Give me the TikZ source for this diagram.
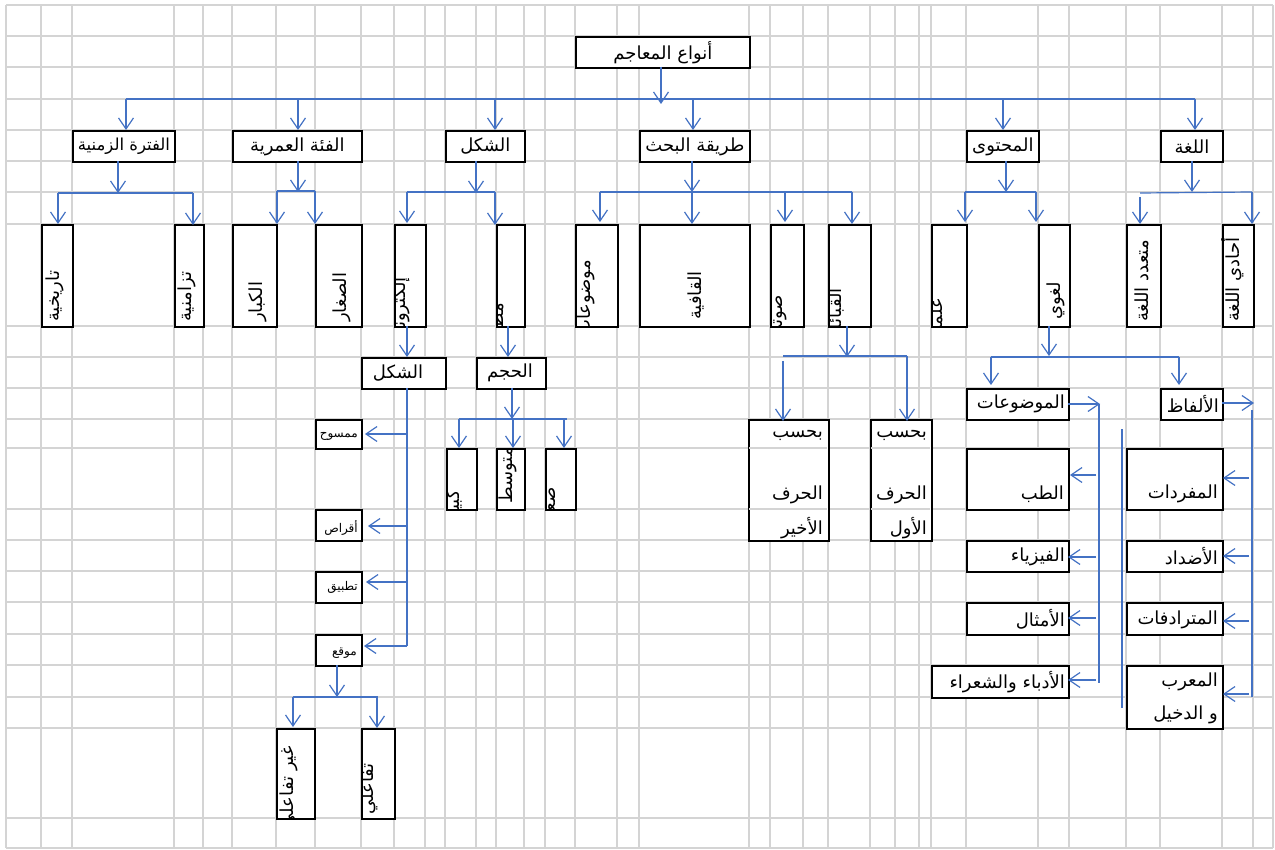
\documentclass[tikz,border=0pt]{standalone}
\usepackage{fontspec}
\newfontfamily\arabicfont[Script=Arabic]{DejaVu Sans}
\TeXXeTstate=1
\usetikzlibrary{arrows.meta}
\definecolor{arrowblue}{RGB}{68,114,196}
\definecolor{gridgray}{RGB}{212,212,212}
% name, x1, y1, x2, y2, text
\newcommand{\bx}[6]{\node[box,anchor=north west,minimum width={#4-#2},minimum height={#5-#3}] (#1) at (#2,#3) {#6};}
% clipped vertical text: box, x, y, anchor, text
\newcommand{\vclip}[5]{\begin{scope}\clip (#1.south west) rectangle (#1.north east);\node[vt,anchor=#4] (#1-t) at (#2,#3) {#5};\end{scope}}
\begin{document}
\begin{tikzpicture}[x=1pt,y=-1pt,
  box/.style={draw=black,line width=1.8pt,fill=white,inner sep=0pt,font=\arabicfont\fontsize{18}{21}\selectfont},
  con/.style={draw=arrowblue,line width=1.2pt},
  arr/.style={con,-{Straight Barb[length=11pt,width=15pt]}},
  gridline/.style={draw=gridgray,line width=1.1pt},
  lab/.style={inner sep=0pt,font=\arabicfont\fontsize{18}{21}\selectfont},
  small/.style={inner sep=0pt,font=\arabicfont\fontsize{12}{14}\selectfont},
  vt/.style={lab,rotate=90}]
\fill[white] (0,0) rectangle (1275,850);
\useasboundingbox (0,0) rectangle (1275,850);
% grid
\foreach \x in {6,41,72,174,203,232,276,315,361,394,425,445,476,496,524,545,575,617,639,749,770,803,828,870,895,919,931,966,1038,1069,1126,1160,1222,1253,1273}
  \draw[gridline] (\x,5) -- (\x,848);
\foreach \y in {5,36,67,99,130,161,192,224,326,357,388,419,448,509,540,571,602,634,665,697,728,818,848}
  \draw[gridline] (6,\y) -- (1273,\y);
% level 0 and 1
\bx{root}{575}{36}{749}{67}{\beginR أنواع المعاجم\endR}
\bx{fatra}{72}{130}{174}{161}{\fontsize{16.5}{20}\selectfont\beginR الفترة الزمنية\endR}
\bx{fia}{232}{130}{361}{161}{\beginR الفئة العمرية\endR}
\bx{shakl}{445}{130}{524}{161}{\beginR الشكل\endR}
\bx{tariqa}{639}{130}{749}{161}{\beginR طريقة البحث\endR}
\bx{muhtawa}{966}{130}{1038}{161}{\beginR المحتوى\endR}
\bx{lugha}{1160}{130}{1222}{161}{\beginR اللغة\endR}
% level 2 (tall boxes)
\bx{tarikh}{41}{224}{72}{326}{}
\bx{tazamun}{174}{224}{203}{326}{}
\bx{kibar}{232}{224}{276}{326}{}
\bx{sighar}{315}{224}{361}{326}{}
\bx{elec}{394}{224}{425}{326}{}
\bx{print}{496}{224}{524}{326}{}
\bx{mawdu}{575}{224}{617}{326}{}
\bx{qafia}{639}{224}{749}{326}{}
\bx{sawti}{770}{224}{803}{326}{}
\bx{qabail}{828}{224}{870}{326}{}
\bx{ilmi}{931}{224}{966}{326}{}
\bx{lughawi}{1038}{224}{1069}{326}{}
\bx{mutaadid}{1126}{224}{1160}{326}{}
\bx{ahadi}{1222}{224}{1253}{326}{}
% level 3
\bx{shakl2}{361}{357}{445}{388}{}
\bx{hajm}{476}{357}{545}{388}{}
\bx{kabir}{446}{448}{476}{509}{}
\bx{mutawassit}{496}{448}{524}{509}{}
\bx{saghir}{545}{448}{575}{509}{}
\bx{mamsuh}{315}{419}{361}{448}{}
\bx{aqras}{315}{509}{361}{540}{}
\bx{tatbiq}{315}{571}{361}{602}{}
\bx{mawqi}{315}{634}{361}{665}{}
\bx{ghair}{276}{728}{314}{818}{}
\bx{tafa}{361}{728}{394}{818}{}
\bx{akhir}{748}{419}{828}{540}{}
\bx{awwal}{870}{419}{931}{540}{}
\bx{mawduat}{966}{388}{1068}{419}{}
\bx{alfaz}{1160}{388}{1222}{419}{}
\bx{tibb}{966}{448}{1068}{509}{}
\bx{fizya}{966}{540}{1068}{571}{}
\bx{amthal}{966}{602}{1068}{634}{}
\bx{udaba}{931}{665}{1068}{697}{}
\bx{mufradat}{1126}{448}{1222}{509}{}
\bx{addad}{1126}{540}{1222}{571}{}
\bx{mutaradifat}{1126}{602}{1222}{634}{}
\bx{muarrab}{1126}{665}{1222}{728}{}
% grid lines visible inside the two split boxes
\foreach \y in {448,509} {\draw[gridline] (749,\y) -- (827,\y); \draw[gridline] (871,\y) -- (930,\y);}
% vertical texts
\node[vt,anchor=west] (tarikh-t) at (55,322) {\beginR تاريخية\endR};
\node[vt,anchor=west] (tazamun-t) at (187,322) {\beginR تزامنية\endR};
\node[vt,anchor=west] (kibar-t) at (258,322) {\beginR الكبار\endR};
\node[vt,anchor=west] (sighar-t) at (342,322) {\beginR الصغار\endR};
\node[vt,anchor=west] (qafia-t) at (696,320) {\beginR القافية\endR};
\node[vt,anchor=west] (lughawi-t) at (1056,320) {\beginR لغوي\endR};
\node[vt,anchor=west] (mutaadid-t) at (1142,322) {\beginR متعدد اللغة\endR};
\node[vt,anchor=west] (ahadi-t) at (1233,322) {\beginR أحادي اللغة\endR};
\vclip{elec}{405}{277}{base east}{\beginR إلكتروني\endR}
\vclip{print}{503}{303}{base east}{\beginR مطبوع\endR}
\vclip{mawdu}{590}{260}{base east}{\beginR موضوعات\endR}
\vclip{sawti}{782}{295}{base east}{\beginR صوتي\endR}
\vclip{qabail}{841}{288}{base east}{\beginR القبائل\endR}
\vclip{ilmi}{942}{298}{base east}{\beginR علمي\endR}
\vclip{kabir}{459}{490}{base east}{\beginR كبير\endR}
\vclip{mutawassit}{508}{447}{east}{\beginR متوسط\endR}
\vclip{saghir}{555}{487}{base east}{\beginR صغير\endR}
\vclip{ghair}{293}{746}{base east}{\beginR غير تفاعلي\endR}
\vclip{tafa}{373}{763}{base east}{\beginR تفاعلي\endR}
% labels
\node[lab] (shakl2-t) at (398,373) {\beginR الشكل\endR};
\node[lab] (hajm-t) at (510,373) {\beginR الحجم\endR};
\node[small,anchor=east] (mamsuh-t) at (358,436) {\beginR ممسوح\endR};
\node[small,anchor=east] (aqras-t) at (358,528) {\beginR أقراص\endR};
\node[small,anchor=east] (tatbiq-t) at (358,587) {\beginR تطبيق\endR};
\node[small,anchor=east] (mawqi-t) at (357,653) {\beginR موقع\endR};
\node[lab,anchor=east] (akhir-a) at (823,435) {\beginR بحسب\endR};
\node[lab,anchor=east] (akhir-b) at (823,495) {\beginR الحرف\endR};
\node[lab,anchor=east] (akhir-c) at (823,528) {\beginR الأخير\endR};
\node[lab,anchor=east] (awwal-a) at (927,435) {\beginR بحسب\endR};
\node[lab,anchor=east] (awwal-b) at (927,495) {\beginR الحرف\endR};
\node[lab,anchor=east] (awwal-c) at (927,528) {\beginR الأول\endR};
\node[lab,anchor=east] (mawduat-t) at (1065,404) {\beginR الموضوعات\endR};
\node[lab,anchor=east] (alfaz-t) at (1219,404) {\beginR الألفاظ\endR};
\node[lab,anchor=east] (tibb-t) at (1064,494) {\beginR الطب\endR};
\node[lab,anchor=east] (mufradat-t) at (1218,494) {\beginR المفردات\endR};
\node[lab,anchor=east] (fizya-t) at (1065,557) {\beginR الفيزياء\endR};
\node[lab,anchor=east] (addad-t) at (1218,556) {\beginR الأضداد\endR};
\node[lab,anchor=east] (amthal-t) at (1065,619) {\beginR الأمثال\endR};
\node[lab,anchor=east] (mutaradifat-t) at (1218,620) {\beginR المترادفات\endR};
\node[lab,anchor=east] (udaba-t) at (1065,682) {\beginR الأدباء والشعراء\endR};
\node[lab,anchor=east] (muarrab-a) at (1218,682) {\beginR المعرب\endR};
\node[lab,anchor=east] (muarrab-b) at (1218,715) {\beginR و الدخيل\endR};
% ---------- connectors ----------
\draw[arr] (661,67) -- (661,104);
\draw[con] (126,99) -- (1195,99);
\foreach \x in {126,298,495,693,1003,1195}
  \draw[arr] (\x,99) -- (\x,130);
% fatra
\draw[arr] (118,161) -- (118,193);
\draw[con] (58,193) -- (193,193);
\draw[arr] (58,193) -- (58,224);
\draw[arr] (193,193) -- (193,225);
% fia
\draw[arr] (298,161) -- (298,192);
\draw[con] (277,191) -- (315,191);
\draw[arr] (277,191) -- (277,224);
\draw[arr] (315,191) -- (315,224);
% shakl
\draw[arr] (476,161) -- (476,193);
\draw[con] (407,192) -- (495,192);
\draw[arr] (407,192) -- (407,223);
\draw[arr] (495,192) -- (495,225);
% tariqa
\draw[arr] (692,161) -- (692,192);
\draw[con] (600,192) -- (852,192);
\draw[arr] (692,192) -- (692,224);
\draw[arr] (600,192) -- (600,222);
\draw[arr] (785,192) -- (785,222);
\draw[arr] (852,192) -- (852,224);
% muhtawa
\draw[arr] (1006,161) -- (1006,192);
\draw[con] (965,192) -- (1036,192);
\draw[arr] (965,192) -- (965,222);
\draw[arr] (1036,192) -- (1036,222);
% lugha
\draw[arr] (1192,161) -- (1192,192);
\draw[con] (1140,193) -- (1252,192);
\draw[arr] (1140,197) -- (1140,224);
\draw[arr] (1252,192) -- (1252,224);
% electronic / printed
\draw[arr] (407,326) -- (407,357);
\draw[arr] (508,326) -- (508,357);
% hajm
\draw[arr] (512,388) -- (512,419);
\draw[con] (459,419) -- (567,419);
\draw[arr] (459,419) -- (459,448);
\draw[arr] (513,419) -- (513,448);
\draw[arr] (564,419) -- (564,448);
% shakl2
\draw[con] (407,388) -- (407,646);
\draw[arr] (407,434) -- (365,434);
\draw[arr] (407,526) -- (368,526);
\draw[arr] (407,582) -- (366,582);
\draw[arr] (407,646) -- (364,646);
% mawqi
\draw[arr] (337,665) -- (337,697);
\draw[con] (293,697) -- (378,697);
\draw[arr] (293,697) -- (293,727);
\draw[arr] (377,697) -- (377,728);
% qabail
\draw[arr] (847,326) -- (847,357);
\draw[con] (783,356) -- (907,356);
\draw[arr] (783,361) -- (783,421);
\draw[arr] (907,356) -- (907,421);
% lughawi
\draw[arr] (1049,326) -- (1049,356);
\draw[con] (991,357) -- (1179,357);
\draw[arr] (991,357) -- (991,385);
\draw[arr] (1179,357) -- (1179,385);
% mawduat
\draw[arr] (1068,404) -- (1100,404);
\draw[con] (1099,404) -- (1099,683);
\draw[arr] (1096,475) -- (1070,475);
\draw[arr] (1096,557) -- (1068,557);
\draw[arr] (1096,618) -- (1068,618);
\draw[arr] (1096,680) -- (1068,680);
% alfaz
\draw[arr] (1222,403) -- (1254,403);
\draw[con] (1252,410) -- (1252,697);
\draw[arr] (1249,478) -- (1223,478);
\draw[arr] (1249,556) -- (1223,556);
\draw[arr] (1249,621) -- (1223,621);
\draw[arr] (1249,694) -- (1223,694);
% free line
\coordinate (fl1) at (1122,429);
\coordinate (fl2) at (1122,708);
\draw[con] (fl1) -- (fl2);
\end{tikzpicture}
\end{document}
